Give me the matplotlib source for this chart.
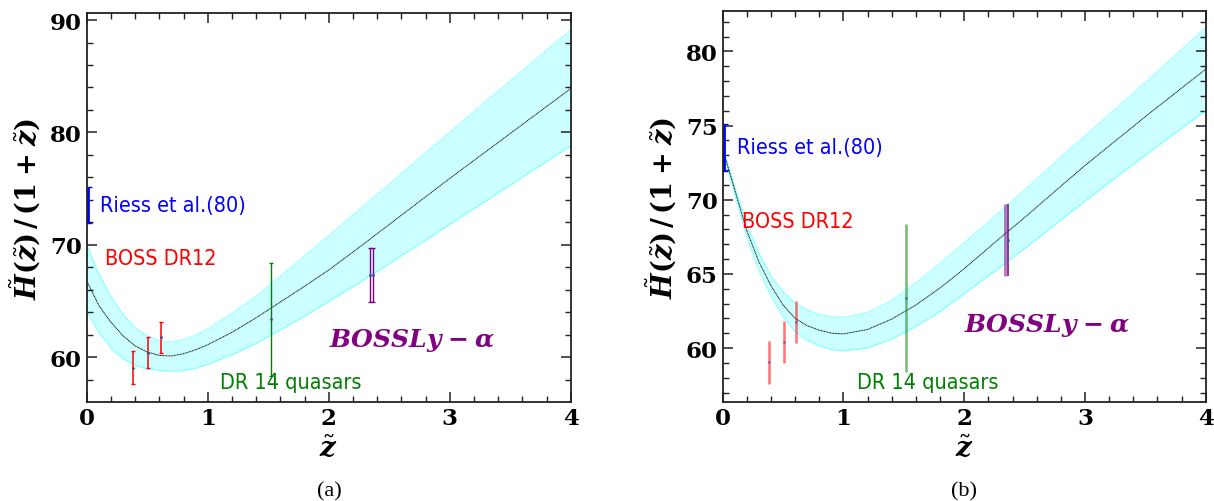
import matplotlib
matplotlib.use("Agg")
import matplotlib.pyplot as plt
from matplotlib.ticker import MultipleLocator

plt.rcParams['font.family'] = 'DejaVu Serif'
plt.rcParams['mathtext.fontset'] = 'custom'
plt.rcParams['mathtext.rm'] = 'DejaVu Serif'
plt.rcParams['mathtext.it'] = 'DejaVu Serif:italic'
plt.rcParams['mathtext.bf'] = 'DejaVu Serif:bold'
plt.rcParams['mathtext.bfit'] = 'DejaVu Serif:italic:bold'

# reconstructed H(z)/(1+z): model A (left) and model B (right)
z_grid = [0.0, 0.1, 0.2, 0.3, 0.4, 0.5, 0.6, 0.7, 0.8, 0.9, 1.0,
          1.2, 1.4, 1.6, 1.8, 2.0,
          2.25, 2.5, 2.75, 3.0, 3.25, 3.5, 3.75, 4.0]

mean_a = [66.8, 64.6, 63.1, 61.9, 61.0, 60.45, 60.15, 60.1, 60.3, 60.65, 61.1,
          62.2, 63.5, 64.9, 66.3, 67.75,
          69.75, 71.8, 73.85, 75.9, 77.9, 79.9, 81.9, 83.9]
upper_a = [70.0, 67.4, 65.4, 63.8, 62.6, 61.9, 61.45, 61.35, 61.55, 61.95, 62.5,
           63.9, 65.4, 67.2, 69.0, 70.8,
           73.1, 75.4, 77.7, 80.0, 82.3, 84.6, 86.85, 89.1]
lower_a = [64.1, 62.2, 60.8, 59.85, 59.25, 58.95, 58.8, 58.75, 58.8, 59.0, 59.35,
           60.2, 61.2, 62.4, 63.65, 64.95,
           66.6, 68.3, 70.05, 71.8, 73.55, 75.3, 77.05, 78.8]

mean_b = [73.4, 70.65, 67.9, 65.8, 64.2, 62.9, 62.0, 61.5, 61.2, 61.0, 60.95,
          61.25, 61.95, 62.9, 64.05, 65.35,
          67.1, 68.8, 70.55, 72.3, 73.95, 75.6, 77.2, 78.8]
upper_b = [73.5, 70.85, 68.35, 66.4, 64.85, 63.8, 63.05, 62.55, 62.25, 62.1, 62.07,
           62.4, 63.2, 64.4, 65.7, 67.1,
           68.85, 70.65, 72.5, 74.3, 76.1, 77.9, 79.75, 81.6]
lower_b = [73.3, 70.35, 67.45, 65.2, 63.5, 62.1, 61.1, 60.5, 60.15, 59.9, 59.8,
           60.0, 60.6, 61.45, 62.45, 63.65,
           65.15, 66.7, 68.3, 69.9, 71.45, 73.0, 74.5, 76.0]

# observational points
riess_z, riess_h, riess_err = [0.01], [73.5], [1.6]
boss_z = [0.38, 0.51, 0.61]
boss_h = [59.05, 60.4, 61.75]
boss_err = [1.45, 1.4, 1.4]
qso_z, qso_h, qso_err = [1.52], [63.35], [5.0]
lya_z = [2.34, 2.365]
lya_h = [67.3, 67.3]
lya_err = [2.42, 2.42]

label_font = dict(family='DejaVu Sans', fontstretch='condensed', fontsize=15.5)
lya_text = r'$\mathbfit{BOSSLy}\;\mathbf{-}\;\mathbfit{\alpha}$'
ylabel_text = (r'$\tilde{\mathbfit{H}}\mathbf{(}\tilde{\mathbfit{z}}\mathbf{)}\,\mathbf{/}\,'
               r'\mathbf{(1}\;\mathbf{+}\;\tilde{\mathbfit{z}}\mathbf{)}$')


def style_axis(ax, ylim, ymajor, yminor):
    ax.set_xlim(0, 4)
    ax.set_ylim(*ylim)
    ax.xaxis.set_major_locator(MultipleLocator(1))
    ax.xaxis.set_minor_locator(MultipleLocator(0.2))
    ax.yaxis.set_major_locator(MultipleLocator(ymajor))
    ax.yaxis.set_minor_locator(MultipleLocator(yminor))
    ax.tick_params(which='both', direction='in', top=True, right=True, labelsize=16.5, color='#222222')
    ax.tick_params(which='major', length=7, width=1.1)
    ax.tick_params(which='minor', length=4, width=1.0)
    for lbl in ax.get_xticklabels() + ax.get_yticklabels():
        lbl.set_fontweight('bold')
    for s in ax.spines.values():
        s.set_linewidth(1.3)
        s.set_color('#222222')
    ax.set_xlabel(r'$\tilde{\mathbfit{z}}$', fontsize=20, labelpad=4)
    ax.set_ylabel(ylabel_text, fontsize=19.5, labelpad=5)


def draw_model(ax, mean, lower, upper):
    ax.fill_between(z_grid, lower, upper, color='cyan', alpha=0.2, lw=0)
    ax.plot(z_grid, upper, color='cyan', alpha=0.35, lw=0.9)
    ax.plot(z_grid, lower, color='cyan', alpha=0.35, lw=0.9)
    ax.plot(z_grid, mean, color='black', lw=0.7, ls=(0, (1, 0.6)))


fig = plt.figure(figsize=(12.14, 5.02), dpi=100)
ax_a = fig.add_axes([86.7 / 1214, 99.3 / 502, 484 / 1214, 388.4 / 502])
ax_b = fig.add_axes([722.7 / 1214, 99.3 / 502, 483 / 1214, 390.4 / 502])

# panel (a)
draw_model(ax_a, mean_a, lower_a, upper_a)
ax_a.errorbar(riess_z, riess_h, yerr=riess_err, fmt='none', ecolor='blue', elinewidth=2, capsize=3)
ax_a.errorbar(boss_z, boss_h, yerr=boss_err, fmt='.', ms=2, color='#3050a0', ecolor='red', elinewidth=1.1, capsize=1.5)
ax_a.errorbar(qso_z, qso_h, yerr=qso_err, fmt='.', ms=2, color='#3050a0', ecolor='green', elinewidth=1.0, capsize=1.5)
ax_a.errorbar(lya_z, lya_h, yerr=lya_err, fmt='.', ms=2, color='#3050a0', ecolor='purple', elinewidth=1.0, capsize=1.5)
ax_a.text(0.11, 73.5, 'Riess et al.(80)', color='blue', va='center', **label_font)
ax_a.text(0.15, 68.8, 'BOSS DR12', color='red', va='center', **label_font)
ax_a.text(1.10, 57.8, 'DR 14 quasars', color='green', va='center', **label_font)
ax_a.text(2.0, 61.6, lya_text, color='purple', va='center', fontsize=18)
style_axis(ax_a, (56.03, 90.6), 10, 2)

# panel (b)
draw_model(ax_b, mean_b, lower_b, upper_b)
ax_b.errorbar(riess_z, riess_h, yerr=riess_err, fmt='none', ecolor='blue', elinewidth=2, capsize=3)
ax_b.errorbar(boss_z, boss_h, yerr=boss_err, fmt='.', ms=2, color='#3050a0', ecolor='red', elinewidth=1.8, capsize=0, alpha=0.55)
ax_b.errorbar(qso_z, qso_h, yerr=qso_err, fmt='.', ms=2, color='#3050a0', ecolor='green', elinewidth=1.8, capsize=0, alpha=0.55)
ax_b.errorbar(lya_z[:1], lya_h[:1], yerr=lya_err[:1], fmt='none', ecolor='purple', elinewidth=2, capsize=0, alpha=0.55)
ax_b.errorbar(lya_z[1:], lya_h[1:], yerr=lya_err[1:], fmt='.', ms=2, color='#3050a0', ecolor='purple', elinewidth=1.1, capsize=0)
ax_b.text(0.12, 73.55, 'Riess et al.(80)', color='blue', va='center', **label_font)
ax_b.text(0.16, 68.55, 'BOSS DR12', color='red', va='center', **label_font)
ax_b.text(1.11, 57.7, 'DR 14 quasars', color='green', va='center', **label_font)
ax_b.text(2.0, 61.6, lya_text, color='purple', va='center', fontsize=18)
style_axis(ax_b, (56.38, 82.7), 5, 1)

fig.text(329 / 1214, 1 - 492 / 502, '(a)', family='Liberation Serif', fontsize=16, ha='center', va='center')
fig.text(964 / 1214, 1 - 492 / 502, '(b)', family='Liberation Serif', fontsize=16, ha='center', va='center')

fig.savefig('out.png', dpi=100)
